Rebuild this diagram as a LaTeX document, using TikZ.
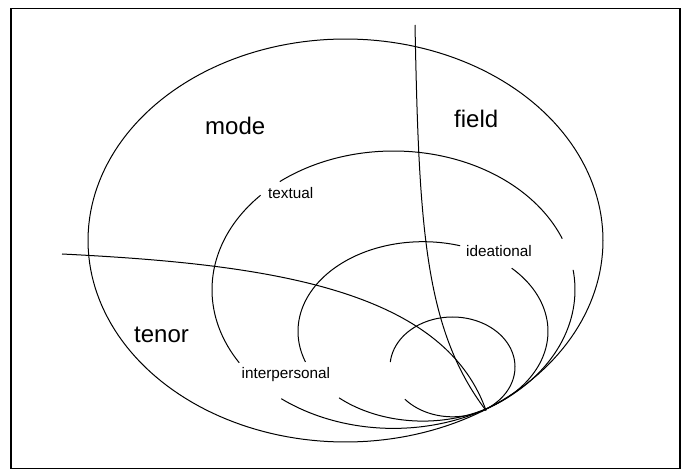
\documentclass[tikz,border=0pt]{standalone}
\usepackage{fontspec}
\setmainfont{Liberation Sans}
\begin{document}
\begin{tikzpicture}[x=1pt,y=-1pt,
  curve/.style={draw=black, line width=1pt},
  frame/.style={draw=black, line width=1.5pt},
  biglabel/.style={inner sep=0pt, anchor=base west, font=\fontsize{24}{28}\selectfont},
  smalllabel/.style={inner sep=0pt, anchor=base west, font=\fontsize{15.3}{18}\selectfont}]
\useasboundingbox (0,0) rectangle (686,470);
\draw[frame] (11,8.5) rectangle (680,468.5);
% outer ellipse
\draw[curve] plot[domain=0:360, samples=200] ({345.5+257.5*cos(\x)},{240.5+201.5*sin(\x)});
% textual ellipse (pieces)
\draw[curve] plot[domain=231.2:338.4, samples=80] ({393.5+181.5*cos(\x)},{289.7+138.7*sin(\x)});
\draw[curve] plot[domain=-8.2:128.2, samples=90] ({393.5+181.5*cos(\x)},{289.7+138.7*sin(\x)});
\draw[curve] plot[domain=148.2:222.9, samples=50] ({393.5+181.5*cos(\x)},{289.7+138.7*sin(\x)});
% ideational ellipse (pieces)
\draw[curve] plot[domain=160.1:287.3, samples=80] ({423+125*cos(\x)},{331.4+89.7*sin(\x)});
\draw[curve] plot[domain=-44.8:132.2, samples=90] ({423+125*cos(\x)},{331.4+89.7*sin(\x)});
% smallest ellipse
\draw[curve] plot[domain=185.6:499.6, samples=120] ({452.5+62.5*cos(\x)},{366.9+49.9*sin(\x)});
% dividing lines
\coordinate (p) at (486,410.5);
\coordinate (vtop) at (415,25);
\coordinate (hleft) at (62,254);
\draw[curve] (vtop) .. controls (419,225) and (424,329) .. (p);
\draw[curve] (hleft) .. controls (262,264) and (442.7,287.2) .. (p);
% labels
\node[biglabel] (mode) at (205,135) {mode};
\node[biglabel] (field) at (454,128) {field};
\node[biglabel] (tenor) at (134,343) {tenor};
\node[smalllabel] (textual) at (268,199) {textual};
\node[smalllabel] (ideational) at (466,257) {ideational};
\node[smalllabel] (interpersonal) at (241.5,379) {interpersonal};
\end{tikzpicture}
\end{document}
